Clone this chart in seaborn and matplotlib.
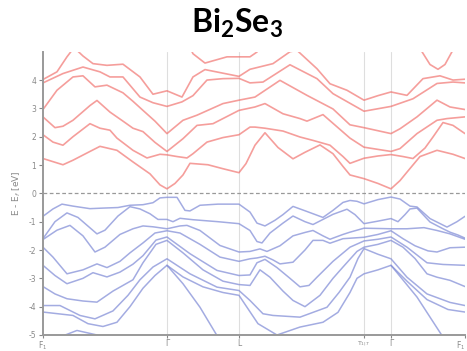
import seaborn as sns
import matplotlib.pyplot as plt
import pandas as pd
import numpy as np

# k-path (distance along path) and labels
kpath_pos = [0, 124, 196, 321, 348, 422]
kpath_lab = ['F$_1$', 'Γ', 'L', 'T$_{1|T}$', 'Γ', 'F$_1$']

# conduction bands (eV), each with its own k samples
k_c1 = [0, 10, 20, 30, 47, 57, 74, 90, 107, 117, 124, 132, 140, 147, 165, 180, 196, 203, 212, 222, 235, 250, 262, 277, 290, 300, 307, 321, 335, 348, 357, 364, 377, 394, 410, 422]
e_c1 = [1.23, 1.12, 1.01, 1.17, 1.48, 1.66, 1.52, 1.11, 0.69, 0.30, 0.16, 0.35, 0.65, 1.06, 1.01, 0.87, 0.73, 1.05, 1.70, 2.14, 1.62, 1.22, 1.45, 1.71, 1.40, 0.95, 0.65, 0.52, 0.35, 0.16, 0.45, 0.75, 1.30, 1.52, 1.38, 1.23]
k_c2 = [0, 10, 20, 30, 47, 57, 67, 74, 90, 104, 117, 124, 134, 144, 150, 164, 180, 196, 207, 212, 222, 240, 257, 270, 287, 300, 307, 321, 335, 348, 360, 370, 382, 390, 400, 410, 422]
e_c2 = [2.07, 1.81, 1.70, 2.00, 2.46, 2.30, 2.23, 1.95, 1.52, 1.25, 1.38, 1.36, 1.30, 1.25, 1.40, 1.81, 1.97, 2.07, 2.34, 2.34, 2.30, 2.20, 1.99, 1.87, 1.70, 1.30, 1.06, 1.24, 1.32, 1.37, 1.30, 1.23, 1.60, 1.99, 2.50, 2.40, 2.11]
k_c3 = [0, 12, 20, 30, 47, 54, 67, 80, 90, 100, 112, 124, 140, 154, 170, 196, 212, 222, 240, 257, 264, 280, 294, 307, 321, 348, 357, 374, 394, 404, 422]
e_c3 = [2.70, 2.32, 2.37, 2.58, 3.10, 3.28, 2.87, 2.55, 2.30, 2.18, 1.80, 1.48, 1.93, 2.40, 2.46, 2.93, 3.05, 3.17, 2.81, 2.64, 2.55, 2.78, 2.35, 1.95, 1.63, 1.48, 1.58, 2.11, 2.58, 2.64, 2.70]
k_c4 = [0, 14, 30, 40, 52, 64, 80, 90, 100, 112, 124, 140, 154, 180, 196, 212, 237, 264, 290, 307, 321, 348, 357, 374, 394, 407, 422]
e_c4 = [2.96, 3.64, 4.11, 4.15, 3.76, 3.82, 3.55, 3.25, 2.93, 2.55, 2.11, 2.58, 2.76, 3.17, 3.29, 3.40, 3.99, 3.46, 2.98, 2.42, 2.32, 2.11, 2.28, 2.70, 3.29, 3.05, 2.96]
k_c5 = [0, 20, 40, 57, 67, 80, 97, 110, 124, 139, 150, 164, 180, 196, 207, 220, 247, 274, 290, 321, 348, 370, 394, 410, 422]
e_c5 = [3.90, 4.23, 4.46, 4.29, 4.11, 4.11, 3.40, 3.20, 3.07, 3.23, 3.45, 4.00, 4.05, 4.06, 3.90, 3.93, 4.54, 4.05, 3.52, 2.90, 3.07, 3.34, 3.88, 3.93, 3.90]
k_c6 = [0, 14, 24, 29, 34, 40, 50, 64, 80, 97, 110, 124, 139, 150, 162, 196, 207, 230, 247, 254, 274, 287, 304, 321, 335, 348, 364, 380, 397, 410, 422]
e_c6 = [4.02, 4.29, 4.82, 5.05, 5.05, 4.85, 4.58, 4.52, 4.56, 4.11, 3.50, 3.62, 3.40, 4.11, 4.37, 4.13, 4.38, 4.58, 5.00, 5.05, 4.40, 3.87, 3.64, 3.29, 3.45, 3.58, 3.46, 4.05, 4.15, 4.00, 4.03]
k_c7 = [145, 150, 162, 184, 207, 214, 220]
e_c7 = [5.30, 4.93, 4.60, 4.82, 4.82, 4.99, 5.30]
k_c8 = [372, 379, 387, 395, 402, 409, 416]
e_c8 = [5.40, 5.00, 4.55, 4.38, 4.55, 5.00, 5.40]

# valence bands (eV)
k_v1 = [0, 10, 19, 30, 47, 60, 75, 87, 100, 110, 117, 124, 134, 142, 147, 157, 175, 196, 207, 214, 222, 232, 240, 250, 264, 280, 290, 300, 307, 314, 321, 335, 348, 357, 367, 374, 387, 404, 414, 422]
e_v1 = [-0.81, -0.55, -0.38, -0.45, -0.54, -0.52, -0.50, -0.42, -0.40, -0.33, -0.16, -0.14, -0.14, -0.60, -0.62, -0.42, -0.38, -0.38, -0.66, -1.05, -1.15, -0.95, -0.75, -0.46, -0.64, -0.85, -0.60, -0.32, -0.25, -0.28, -0.37, -0.22, -0.13, -0.20, -0.45, -0.48, -0.89, -1.19, -1.00, -0.81]
k_v2 = [0, 12, 24, 35, 54, 62, 75, 87, 97, 107, 115, 124, 130, 137, 150, 175, 196, 207, 214, 219, 227, 240, 250, 262, 270, 280, 290, 304, 312, 321, 335, 348, 355, 362, 367, 374, 387, 400, 407, 415, 422]
e_v2 = [-1.60, -1.00, -0.69, -0.85, -1.43, -1.30, -0.80, -0.47, -0.55, -0.72, -0.92, -0.92, -1.00, -0.88, -0.93, -1.00, -1.07, -1.31, -1.70, -1.75, -1.40, -1.05, -0.80, -1.00, -1.10, -0.92, -0.74, -0.56, -0.75, -1.07, -0.98, -0.89, -1.00, -0.75, -0.55, -0.52, -1.01, -1.25, -1.37, -1.47, -1.58]
k_v3 = [0, 14, 27, 40, 52, 62, 77, 90, 100, 110, 124, 137, 144, 157, 177, 196, 207, 217, 224, 237, 250, 262, 270, 280, 287, 300, 307, 321, 335, 348, 364, 381, 394, 407, 422]
e_v3 = [-1.63, -1.30, -1.13, -1.50, -2.07, -1.90, -1.45, -1.25, -1.15, -1.18, -1.25, -1.15, -1.13, -1.31, -1.84, -2.07, -2.05, -1.96, -2.05, -1.85, -1.50, -1.38, -1.31, -1.50, -1.62, -1.45, -1.37, -1.23, -1.24, -1.25, -1.25, -1.21, -1.31, -1.43, -1.62]
k_v4 = [0, 10, 24, 40, 54, 64, 77, 87, 100, 112, 124, 137, 157, 177, 196, 207, 214, 222, 230, 237, 250, 262, 270, 280, 287, 300, 321, 335, 348, 360, 372, 385, 394, 407, 422]
e_v4 = [-1.90, -2.25, -2.84, -2.70, -2.49, -2.62, -2.40, -2.10, -1.75, -1.40, -1.32, -1.40, -1.80, -2.25, -2.40, -2.31, -2.28, -2.22, -2.35, -2.49, -2.43, -2.00, -1.66, -1.66, -1.76, -1.60, -1.55, -1.45, -1.32, -1.60, -1.85, -2.03, -2.07, -1.92, -1.90]
k_v5 = [0, 12, 24, 40, 50, 64, 77, 90, 100, 113, 124, 147, 174, 196, 207, 214, 222, 234, 247, 257, 266, 274, 290, 307, 321, 335, 348, 364, 384, 400, 422]
e_v5 = [-2.54, -2.90, -3.19, -3.00, -2.80, -2.95, -2.78, -2.50, -2.20, -1.65, -1.54, -2.13, -2.72, -2.90, -2.88, -2.45, -2.33, -2.62, -3.00, -3.30, -3.25, -2.96, -2.40, -1.90, -1.68, -1.62, -1.54, -1.90, -2.45, -2.51, -2.54]
k_v6 = [0, 12, 24, 40, 54, 70, 80, 90, 100, 113, 124, 140, 160, 180, 196, 207, 217, 227, 240, 250, 262, 277, 290, 300, 314, 321, 335, 348, 360, 372, 384, 394, 407, 422]
e_v6 = [-3.29, -3.55, -3.72, -3.80, -3.84, -3.45, -3.25, -3.05, -2.45, -1.80, -1.66, -2.10, -2.70, -3.10, -3.22, -3.25, -2.70, -2.96, -3.45, -3.78, -4.00, -3.60, -3.00, -2.60, -2.05, -1.90, -1.80, -1.66, -1.90, -2.30, -2.84, -2.96, -3.07, -3.29]
k_v7 = [0, 17, 37, 52, 70, 85, 97, 110, 124, 147, 174, 196, 207, 220, 230, 257, 284, 296, 307, 315, 321, 335, 348, 364, 384, 407, 422]
e_v7 = [-3.96, -3.96, -4.31, -4.43, -4.15, -3.60, -3.05, -2.60, -2.31, -2.84, -3.31, -3.43, -3.78, -4.25, -4.31, -4.37, -4.02, -3.50, -2.96, -2.30, -1.95, -2.15, -2.31, -2.96, -3.55, -3.85, -3.96]
k_v8 = [0, 30, 45, 60, 74, 87, 100, 112, 124, 140, 160, 180, 196, 215, 234, 257, 280, 295, 307, 314, 321, 335, 348, 364, 384, 405, 422]
e_v8 = [-4.19, -4.31, -4.60, -4.70, -4.55, -4.00, -3.35, -2.90, -2.54, -2.95, -3.30, -3.50, -3.60, -4.60, -5.00, -4.72, -4.55, -4.20, -3.50, -3.00, -2.84, -2.70, -2.54, -3.10, -3.75, -4.10, -4.19]
k_v9 = [0, 15, 34, 54, 68]
e_v9 = [-5.50, -5.10, -4.84, -5.00, -5.40]
k_v10 = [124, 140, 157, 174, 182]
e_v10 = [-2.54, -3.19, -4.02, -5.02, -5.50]
k_v11 = [348, 374, 399, 405]
e_v11 = [-2.54, -3.66, -5.02, -5.40]

cond = [(k_c1, e_c1), (k_c2, e_c2), (k_c3, e_c3), (k_c4, e_c4),
        (k_c5, e_c5), (k_c6, e_c6), (k_c7, e_c7), (k_c8, e_c8)]
val = [(k_v1, e_v1), (k_v2, e_v2), (k_v3, e_v3), (k_v4, e_v4), (k_v5, e_v5), (k_v6, e_v6),
       (k_v7, e_v7), (k_v8, e_v8), (k_v9, e_v9), (k_v10, e_v10), (k_v11, e_v11)]

sns.set_theme(style="white")
plt.rcParams['mathtext.fontset'] = 'custom'
plt.rcParams['mathtext.rm'] = 'Lato:bold'
plt.rcParams['mathtext.it'] = 'Lato:bold'
plt.rcParams['mathtext.bf'] = 'Lato:bold'

fig = plt.figure(figsize=(4.67, 3.51), dpi=100)
ax = fig.add_axes([0.092, 0.0456, 0.9037, 0.807])

for x in kpath_pos[1:-1]:
    ax.axvline(x, color='#dedede', lw=0.8, zorder=0)
ax.axhline(0, color='#999999', lw=0.9, ls=(0, (3, 2)), zorder=1)

for k, e in cond:
    sns.lineplot(x=k, y=e, ax=ax, color='#f06a66', lw=1.2, alpha=0.65,
                 sort=False, estimator=None)
for k, e in val:
    sns.lineplot(x=k, y=e, ax=ax, color='#8590d8', lw=1.1, alpha=0.75,
                 sort=False, estimator=None)

ax.set_xlim(0, 422)
ax.set_ylim(-5, 5)
ax.set_yticks(range(-5, 5))
ax.set_yticklabels([str(v) for v in range(-5, 5)])
ax.set_xticks(kpath_pos)
ax.set_xticklabels(kpath_lab)
for t in ax.get_xticklabels() + ax.get_yticklabels():
    t.set_math_fontfamily('dejavusans')
ax.tick_params(axis='y', colors='#888888', labelsize=5.5, length=3, width=0.8,
               direction='out', left=True, pad=2)
ax.tick_params(axis='x', colors='#888888', labelsize=5.5, length=2.5, width=0.8,
               direction='out', bottom=True, pad=0.5)
xl = ax.get_xticklabels()
xl[3].set_fontsize(4.6)
xl[-1].set_horizontalalignment('right')
for s in ['top', 'right']:
    ax.spines[s].set_visible(False)
for s in ['left', 'bottom']:
    ax.spines[s].set_color('#999999')
    ax.spines[s].set_linewidth(1.4)

yl = ax.set_ylabel('E - E$_f$ [eV]', color='#888888', fontsize=6.5, labelpad=4)
yl.set_math_fontfamily('dejavusans')
ax.set_xlabel('')

fig.text(0.507, 0.934, r'$\mathrm{Bi_2Se_3}$', ha='center', va='center',
         fontsize=23, color='black')

fig.savefig('out.png', dpi=100)
